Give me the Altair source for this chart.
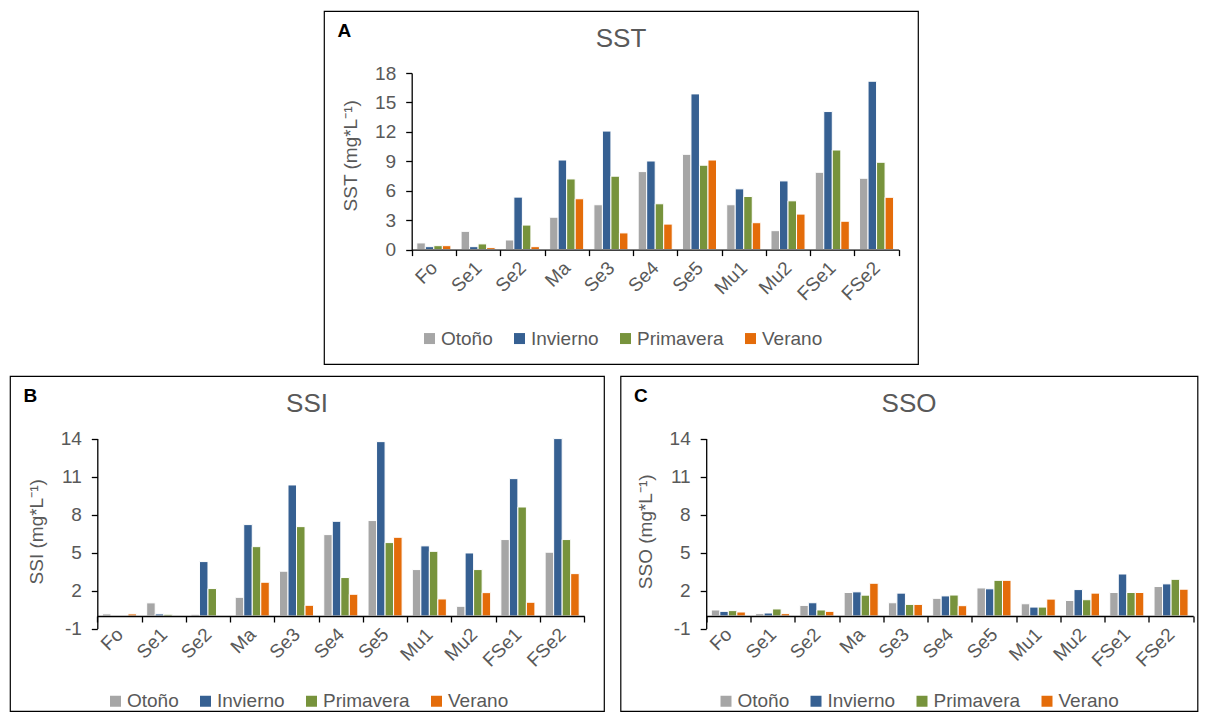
import altair as alt
import pandas as pd

sites = ["Fo", "Se1", "Se2", "Ma", "Se3", "Se4", "Se5", "Mu1", "Mu2", "FSe1", "FSe2"]
seasons = ["Otoño", "Invierno", "Primavera", "Verano"]
colors = ["#A6A6A6", "#366092", "#77933C", "#E46C0A"]

# SST
sst_otono = [0.68, 1.86, 0.98, 3.30, 4.57, 7.95, 9.71, 4.57, 1.93, 7.88, 7.27]
sst_invierno = [0.30, 0.30, 5.35, 9.13, 12.08, 9.03, 15.87, 6.19, 7.00, 14.07, 17.16]
sst_primavera = [0.40, 0.58, 2.50, 7.20, 7.48, 4.67, 8.60, 5.41, 4.97, 10.15, 8.90]
sst_verano = [0.40, 0.20, 0.30, 5.18, 1.70, 2.60, 9.13, 2.74, 3.62, 2.89, 5.33]

# SSI
ssi_otono = [0.16, 1.03, 0.13, 1.47, 3.53, 6.42, 7.53, 3.66, 0.76, 6.03, 5.03]
ssi_invierno = [0.00, 0.16, 4.29, 7.21, 10.34, 7.47, 13.76, 5.53, 4.97, 10.84, 14.00]
ssi_primavera = [0.00, 0.13, 2.16, 5.47, 7.05, 3.03, 5.79, 5.10, 3.66, 8.60, 6.03]
ssi_verano = [0.16, 0.00, 0.00, 2.66, 0.84, 1.71, 6.21, 1.34, 1.84, 1.08, 3.34]

# SSO
sso_otono = [0.47, 0.18, 0.83, 1.85, 1.04, 1.39, 2.21, 0.96, 1.22, 1.85, 2.32]
sso_invierno = [0.36, 0.23, 1.04, 1.90, 1.80, 1.58, 2.14, 0.70, 2.08, 3.31, 2.53]
sso_primavera = [0.42, 0.55, 0.47, 1.64, 0.91, 1.65, 2.81, 0.70, 1.28, 1.85, 2.89]
sso_verano = [0.31, 0.18, 0.36, 2.58, 0.91, 0.81, 2.81, 1.33, 1.80, 1.85, 2.11]

sst_ticks = [0, 3, 6, 9, 12, 15, 18]
ss_ticks = [-1, 2, 5, 8, 11, 14]

FONT = "Liberation Sans"
GRAY = "#595959"


def make_df(series):
    rows = []
    for season, vals in zip(seasons, series):
        for site, v in zip(sites, vals):
            rows.append({"Sitio": site, "Estación": season, "Valor": v})
    return pd.DataFrame(rows)


def panel(df, letter, title, ytitle, ydomain, yticks, frame_w, frame_h,
          x0, top_px, base_px, bot_px, ytitle_y, legend_y):
    x = alt.X(
        "Sitio:N", sort=sites,
        scale=alt.Scale(range=[x0, x0 + 487], paddingInner=0, paddingOuter=0),
        axis=alt.Axis(
            title=letter, titleX=13, titleY=19.5 - base_px, titleAngle=0,
            titleAlign="left", titleBaseline="middle", titleFontWeight="bold",
            titleFontSize=19, titleColor="black", titleFont=FONT,
            offset=-(frame_h - base_px), labelAngle=315, labelAlign="right",
            labelBaseline="middle", labelPadding=9, labelFontSize=19,
            labelColor=GRAY, labelFont=FONT, labelOverlap=False,
            tickBand="extent", tickSize=6, tickColor="black", tickWidth=1.3,
            domainColor="black", domainWidth=1.3, grid=False, zindex=1,
        ),
    )
    y = alt.Y(
        "Valor:Q",
        scale=alt.Scale(domain=ydomain, range=[bot_px, top_px], nice=False, zero=False),
        axis=alt.Axis(
            values=yticks, offset=-x0, title=ytitle, titleX=-61, titleY=ytitle_y,
            titleAngle=270, titleAlign="center", titleBaseline="middle",
            titleFontSize=19, titleColor=GRAY, titleFont=FONT, titleFontWeight="normal",
            labelFontSize=19, labelColor=GRAY, labelFont=FONT, labelPadding=10,
            labelExpr="'' + datum.value",
            tickSize=6, tickColor="black", tickWidth=1.3,
            domainColor="black", domainWidth=1.3, grid=False, zindex=1,
        ),
    )
    bars = alt.Chart(df).mark_bar(stroke="white", strokeWidth=1).encode(
        x=x,
        xOffset=alt.XOffset("Estación:N", sort=seasons,
                            scale=alt.Scale(paddingInner=0, paddingOuter=0.6)),
        y=y,
        y2=alt.datum(0),
        color=alt.Color(
            "Estación:N", sort=seasons,
            scale=alt.Scale(domain=seasons, range=colors),
            legend=alt.Legend(
                orient="none", legendX=96, legendY=legend_y, direction="horizontal",
                title=None, symbolType="square", symbolSize=121, symbolStrokeWidth=0,
                labelFontSize=19, labelColor=GRAY, labelFont=FONT, columnPadding=17,
                labelOffset=2, padding=0,
            ),
        ),
    )
    head = alt.Chart(pd.DataFrame({"titulo": [title]})).mark_text(
        fontSize=26, color=GRAY, font=FONT, align="center", baseline="middle"
    ).encode(text="titulo:N", x=alt.value(frame_w / 2), y=alt.value(27.5))
    return alt.layer(bars, head).properties(
        width=frame_w, height=frame_h,
        view=alt.ViewBackground(stroke="black", strokeWidth=1.2),
    )


a = panel(make_df([sst_otono, sst_invierno, sst_primavera, sst_verano]),
          "A", "SST", "SST (mg*L⁻¹)", [0, 18], sst_ticks, 594, 353,
          87.7, 62, 238.6, 238.6, 144.3, 317.8)
b = panel(make_df([ssi_otono, ssi_invierno, ssi_primavera, ssi_verano]),
          "B", "SSI", "SSI (mg*L⁻¹)", [-1, 14], ss_ticks, 594, 335,
          87.3, 62.6, 240, 252.6, 155.3, 315.5)
c = panel(make_df([sso_otono, sso_invierno, sso_primavera, sso_verano]),
          "C", "SSO", "SSO (mg*L⁻¹)", [-1, 14], ss_ticks, 577, 335,
          85.7, 62.6, 240, 252.6, 155.3, 315.5)

spacer = alt.Chart(pd.DataFrame({"v": [0]})).mark_point(opacity=0).encode(
    x=alt.value(150), y=alt.value(5)
).properties(width=293, height=10,
             view=alt.ViewBackground(stroke="transparent", fill="transparent"))

top = alt.hconcat(spacer, a, spacing=13).resolve_scale(
    x="independent", y="independent", color="independent", xOffset="independent")
bottom = alt.hconcat(b, c, spacing=8.5).resolve_scale(
    x="independent", y="independent", color="independent", xOffset="independent")

chart = alt.vconcat(top, bottom, spacing=10).resolve_scale(
    x="independent", y="independent", color="independent", xOffset="independent"
).properties(
    padding={"left": -5, "top": 2, "right": 0, "bottom": 0},
    background="white",
).configure_view(stroke="transparent")

chart.save("out.html", embed_options={"renderer": "svg", "actions": False})
